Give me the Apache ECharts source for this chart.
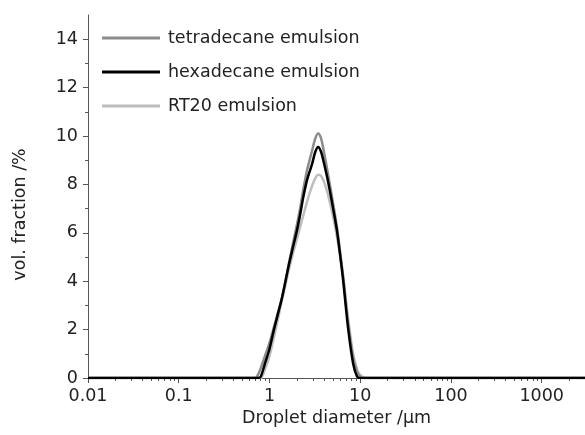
<!DOCTYPE html>
<html>
<head>
<meta charset="utf-8">
<script src="https://cdn.jsdelivr.net/npm/echarts@6/dist/echarts.min.js"></script>
<style>html,body{margin:0;padding:0;background:#fff}#c{width:585px;height:435px}</style>
</head>
<body>
<div id="c"></div>
<script>
// Droplet diameter grid (µm)
const diameter = [0.01, 0.05, 0.1, 0.5, 0.65, 0.7, 0.75, 0.8, 0.9, 1.0, 1.12, 1.25, 1.38, 1.5, 1.64, 1.8, 2.01, 2.2, 2.35, 2.6, 2.95, 3.2, 3.44, 3.7, 4.0, 4.43, 5.0, 5.56, 6.0, 6.48, 7.36, 8.35, 9.25, 10, 10.8, 11.5, 13, 20, 50, 100, 500, 1000, 3000];
// vol. fraction (%)
const tetradecane = [0, 0, 0, 0, 0, 0, 0.15, 0.4, 0.95, 1.45, 2.1, 2.75, 3.35, 4.0, 4.75, 5.5, 6.35, 7.1, 7.75, 8.6, 9.4, 9.9, 10.1, 9.9, 9.3, 8.4, 7.25, 6.2, 5.2, 4.2, 2.25, 0.85, 0.25, 0.05, 0, 0, 0, 0, 0, 0, 0, 0, 0];
const hexadecane  = [0, 0, 0, 0, 0, 0, 0, 0.05, 0.65, 1.2, 2.0, 2.7, 3.35, 4.0, 4.7, 5.35, 6.1, 6.85, 7.45, 8.2, 8.85, 9.35, 9.55, 9.35, 8.85, 8.1, 7.05, 6.05, 5.1, 4.05, 2.05, 0.6, 0.05, 0, 0, 0, 0, 0, 0, 0, 0, 0, 0];
const rt20        = [0, 0, 0, 0, 0, 0, 0, 0, 0.4, 0.9, 1.7, 2.5, 3.25, 3.85, 4.5, 5.1, 5.75, 6.3, 6.7, 7.3, 7.95, 8.25, 8.4, 8.35, 8.1, 7.55, 6.7, 5.8, 5.05, 4.2, 2.45, 1.0, 0.35, 0.12, 0.03, 0, 0, 0, 0, 0, 0, 0, 0];

const xMajorTicks = [0.01, 0.1, 1, 10, 100, 1000];
const xMinorTicks = [];
[0.01, 0.1, 1, 10, 100, 1000].forEach(function (d) {
  for (let k = 2; k <= 9; k++) { const v = +(d * k).toPrecision(3); if (v <= 3000) xMinorTicks.push(v); }
});
const yMajorTicks = [0, 2, 4, 6, 8, 10, 12, 14];
const yMinorTicks = [1, 3, 5, 7, 9, 11, 13];

const names = ['tetradecane emulsion', 'hexadecane emulsion', 'RT20 emulsion'];
const colors = ['#8c8c8c', '#000000', '#bdbdbd'];
const seriesValues = [tetradecane, hexadecane, rt20];

const FONT = 'DejaVu Sans';
const FS = 17.5;
const axisColor = '#555';

function pairs(vals) { return diameter.map(function (d, i) { return [d, vals[i]]; }); }

const chart = echarts.init(document.getElementById('c'), null, { renderer: 'canvas' });
chart.setOption({
  animation: false,
  backgroundColor: '#fff',
  grid: { left: 88, right: 0, top: 15, bottom: 57, containLabel: false },
  legend: {
    orient: 'vertical', left: 97, top: 24,
    itemWidth: 58, itemHeight: 3, itemGap: 16,
    icon: 'rect',
    textStyle: { fontFamily: FONT, fontSize: FS, color: '#222', lineHeight: 18, padding: [0, 0, 0, 3] },
    data: names
  },
  xAxis: [{
    type: 'log', logBase: 10, min: 0.01, max: 3000,
    name: 'Droplet diameter /\u03bcm', nameLocation: 'middle', nameGap: 30,
    nameTextStyle: { fontFamily: FONT, fontSize: FS, color: '#222' },
    axisLine: { show: true, lineStyle: { color: axisColor, width: 1 } },
    axisTick: { show: true, inside: false, length: 5, lineStyle: { color: axisColor }, customValues: xMajorTicks },
    axisLabel: { fontFamily: FONT, fontSize: FS, color: '#222', margin: 9, customValues: xMajorTicks,
      formatter: function (v) { return String(+v.toPrecision(3)); } },
    splitLine: { show: false }, minorTick: { show: false }
  }, {
    type: 'log', logBase: 10, min: 0.01, max: 3000, position: 'bottom',
    axisLine: { show: false },
    axisTick: { show: true, inside: false, length: 3, lineStyle: { color: axisColor }, customValues: xMinorTicks },
    axisLabel: { show: false }, splitLine: { show: false }
  }],
  yAxis: [{
    type: 'value', min: 0, max: 15, position: 'left',
    name: 'vol. fraction /%', nameLocation: 'middle', nameGap: 59,
    nameTextStyle: { fontFamily: FONT, fontSize: FS, color: '#222', padding: [0, 36, 0, 0] },
    axisLine: { show: true, lineStyle: { color: axisColor, width: 1 } },
    axisTick: { show: true, inside: false, length: 5, lineStyle: { color: axisColor }, customValues: yMajorTicks },
    axisLabel: { fontFamily: FONT, fontSize: FS, color: '#222', margin: 10, customValues: yMajorTicks },
    splitLine: { show: false }
  }, {
    type: 'value', min: 0, max: 15, position: 'left',
    axisLine: { show: false },
    axisTick: { show: true, inside: false, length: 3, lineStyle: { color: axisColor }, customValues: yMinorTicks },
    axisLabel: { show: false }, splitLine: { show: false }
  }],
  series: names.map(function (n, i) {
    return {
      name: n, type: 'line', xAxisIndex: 0, yAxisIndex: 0,
      data: pairs(seriesValues[i]),
      showSymbol: false, symbol: 'none', smooth: 0.3,
      lineStyle: { color: colors[i], width: 2.5 },
      itemStyle: { color: colors[i] },
      z: i === 1 ? 3 : (i === 0 ? 2 : 1)
    };
  })
});
</script>
</body>
</html>
